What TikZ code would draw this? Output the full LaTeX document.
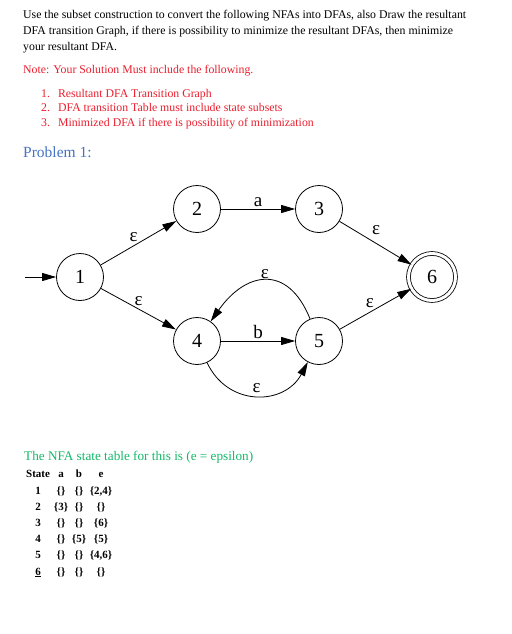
\documentclass[tikz,border=0pt]{standalone}
\usepackage{fontspec}
\setmainfont{Liberation Serif}
\usepackage{xcolor}
\usepackage{tikz}
\usetikzlibrary{arrows.meta, positioning}
\definecolor{notered}{RGB}{235,30,45}
\definecolor{headblue}{RGB}{68,114,196}
\definecolor{tablegreen}{RGB}{20,185,105}

\begin{document}
\begin{tikzpicture}[
  x=1pt, y=1pt,
  txt/.style={anchor=base west, inner sep=0pt, font=\fontsize{11.8}{14}\selectfont},
  note/.style={txt, text=notered},
  state/.style={circle, draw, thick, minimum size=47pt, inner sep=0pt, font=\fontsize{20}{20}\selectfont},
  accept/.style={state, double, double distance=3pt},
  lbl/.style={font=\fontsize{19}{19}\selectfont, inner sep=2pt},
  arr/.style={-{Triangle[length=14pt, width=8pt]}, thick},
  cell/.style={anchor=base, inner sep=0pt, font=\fontsize{11}{13}\selectfont\bfseries}
]
\useasboundingbox[fill=white] (0,0) rectangle (511,-634);

% Question text
\node[txt] (q1) at (23,-19) {Use the subset construction to convert the following NFAs into DFAs, also Draw the resultant};
\node[txt] (q2) at (23,-35) {DFA transition Graph, if there is possibility to minimize the resultant DFAs, then minimize};
\node[txt] (q3) at (23,-51) {your resultant DFA.};
\node[note] (nt) at (23,-74) {Note: Your Solution Must include the following.};
\node[note] (i1) at (41,-97)  {1.\hspace{8pt}Resultant DFA Transition Graph};
\node[note] (i2) at (41,-111) {2.\hspace{8pt}DFA transition Table must include state subsets};
\node[note] (i3) at (41,-126) {3.\hspace{8pt}Minimized DFA if there is possibility of minimization};
\node[txt, text=headblue, font=\fontsize{15.5}{17}\selectfont] (prob) at (23,-157) {Problem 1:};

% NFA states (upper path 1-2-3-6, lower path 1-4-5-6)
\node[state]  (s1) at (80,-277)  {1};
\node[state]  (s2) at (197,-209) {2};
\node[state]  (s3) at (319,-209) {3};
\node[state]  (s4) at (197,-341) {4};
\node[state]  (s5) at (319,-341) {5};
\node[accept] (s6) at (432,-277) {6};
\coordinate (start) at (25,-277);

\draw[arr] (start) -- (s1);
\draw[arr] (s1) -- node[lbl, above left=-2pt] {ε} (s2);
\draw[arr] (s1) -- node[lbl, above=1pt] {ε} (s4);
\draw[arr] (s2) -- node[lbl, above] {a} (s3);
\draw[arr] (s3) -- node[lbl, above right=2pt, pos=0.4] {ε} (s6);
\draw[arr] (s4) -- node[lbl, above] {b} (s5);
\draw[arr] (s5) -- node[lbl, above left=-1pt] {ε} (s6);

% epsilon arcs between 4 and 5
\draw[arr] (s5) to[out=112, in=55, looseness=1.55] node[lbl, above] {ε} (s4);
\draw[arr] (s4) to[out=-65, in=-118, looseness=1.25] node[lbl, above] {ε} (s5);

% NFA state table
\node[txt, text=tablegreen, font=\fontsize{13.2}{15}\selectfont] (ttl) at (24,-460) {The NFA state table for this is (e = epsilon)};
\node[cell, anchor=base west] (hst) at (26,-477) {State};
\node[cell] (ha) at (61,-477) {a};
\node[cell] (hb) at (79,-477) {b};
\node[cell] (he) at (101,-477) {e};
\foreach \st/\ca/\cb/\ce [count=\r] in {
    {1/\{\}/\{\}/\{2,4\}},
    {2/\{3\}/\{\}/\{\}},
    {3/\{\}/\{\}/\{6\}},
    {4/\{\}/\{5\}/\{5\}},
    {5/\{\}/\{\}/\{4,6\}},
    {\underline{6}/\{\}/\{\}/\{\}}} {
  \node[cell] (r\r s) at (38,-494-16.2*\r+16.2) {\st};
  \node[cell] (r\r a) at (61,-494-16.2*\r+16.2) {\ca};
  \node[cell] (r\r b) at (79,-494-16.2*\r+16.2) {\cb};
  \node[cell] (r\r e) at (101,-494-16.2*\r+16.2) {\ce};
}
\end{tikzpicture}
\end{document}
